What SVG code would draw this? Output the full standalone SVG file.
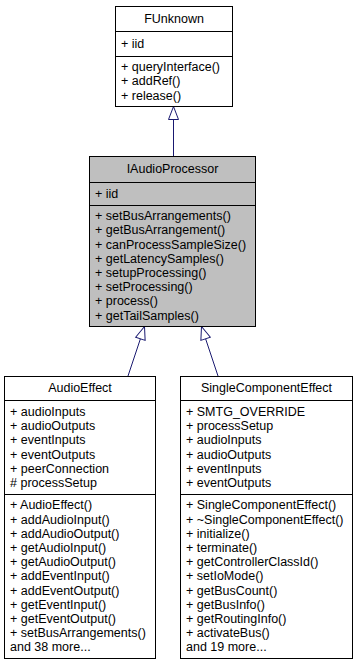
<svg xmlns="http://www.w3.org/2000/svg" width="357" height="664" viewBox="0 0 357 664">
  <style>
    .box { fill: #ffffff; stroke: #000000; stroke-width: 1; }
    .box.current { fill: #bfbfbf; }
    .sep { stroke: #000000; stroke-width: 1; }
    text { font-family: "Liberation Sans", Arial, Helvetica, sans-serif; font-size: 12.5px; fill: #000000; }
    .title { text-anchor: middle; }
    .edge { fill: none; stroke: #191970; stroke-width: 1; }
  </style>
  <defs>
    <marker id="inherit" markerUnits="userSpaceOnUse" markerWidth="15" markerHeight="12" refX="14" refY="6" orient="auto">
      <path d="M1,1 L14,6 L1,11 Z" fill="#ffffff" stroke="#191970" stroke-width="1"/>
    </marker>
  </defs>

  <!-- inheritance edges -->
  <g id="edges">
    <line class="edge" x1="173.5" y1="156" x2="173.5" y2="106.5" marker-end="url(#inherit)"/>
    <line class="edge" x1="128" y1="376" x2="144.5" y2="326.5" marker-end="url(#inherit)"/>
    <line class="edge" x1="218" y1="376" x2="201.5" y2="326.5" marker-end="url(#inherit)"/>
  </g>

  <g id="FUnknown">
    <rect class="box" x="115.5" y="6.5" width="117" height="100"/>
    <line class="sep" x1="115.5" y1="31.5" x2="232.5" y2="31.5"/>
    <line class="sep" x1="115.5" y1="56.5" x2="232.5" y2="56.5"/>
    <text class="title" x="174" y="23">FUnknown</text>
    <text x="121" y="48">+ iid</text>
    <text x="121" y="71.2">+ queryInterface()</text>
    <text x="121" y="85.4">+ addRef()</text>
    <text x="121" y="99.6">+ release()</text>
  </g>

  <g id="IAudioProcessor">
    <rect class="box current" x="89.5" y="156.5" width="166" height="170"/>
    <line class="sep" x1="89.5" y1="182.5" x2="255.5" y2="182.5"/>
    <line class="sep" x1="89.5" y1="205.5" x2="255.5" y2="205.5"/>
    <text class="title" x="172.5" y="173.4">IAudioProcessor</text>
    <text x="95" y="197.9">+ iid</text>
    <text x="95" y="220.2">+ setBusArrangements()</text>
    <text x="95" y="234.4">+ getBusArrangement()</text>
    <text x="95" y="248.6">+ canProcessSampleSize()</text>
    <text x="95" y="262.8">+ getLatencySamples()</text>
    <text x="95" y="277">+ setupProcessing()</text>
    <text x="95" y="291.2">+ setProcessing()</text>
    <text x="95" y="305.4">+ process()</text>
    <text x="95" y="319.6">+ getTailSamples()</text>
  </g>

  <g id="AudioEffect">
    <rect class="box" x="4.5" y="376.5" width="151" height="282"/>
    <line class="sep" x1="4.5" y1="400.5" x2="155.5" y2="400.5"/>
    <line class="sep" x1="4.5" y1="494.5" x2="155.5" y2="494.5"/>
    <text class="title" x="80" y="392.4">AudioEffect</text>
    <text x="10" y="415.9">+ audioInputs</text>
    <text x="10" y="430.1">+ audioOutputs</text>
    <text x="10" y="444.3">+ eventInputs</text>
    <text x="10" y="458.5">+ eventOutputs</text>
    <text x="10" y="472.7">+ peerConnection</text>
    <text x="10" y="486.9"># processSetup</text>
    <text x="10" y="509.4">+ AudioEffect()</text>
    <text x="10" y="523.6">+ addAudioInput()</text>
    <text x="10" y="537.8">+ addAudioOutput()</text>
    <text x="10" y="552">+ getAudioInput()</text>
    <text x="10" y="566.2">+ getAudioOutput()</text>
    <text x="10" y="580.4">+ addEventInput()</text>
    <text x="10" y="594.6">+ addEventOutput()</text>
    <text x="10" y="608.8">+ getEventInput()</text>
    <text x="10" y="623">+ getEventOutput()</text>
    <text x="10" y="637.2">+ setBusArrangements()</text>
    <text x="10" y="651.4">and 38 more...</text>
  </g>

  <g id="SingleComponentEffect">
    <rect class="box" x="180.5" y="376.5" width="172" height="282"/>
    <line class="sep" x1="180.5" y1="400.5" x2="352.5" y2="400.5"/>
    <line class="sep" x1="180.5" y1="494.5" x2="352.5" y2="494.5"/>
    <text class="title" x="266.5" y="392.4">SingleComponentEffect</text>
    <text x="186" y="415.9">+ SMTG_OVERRIDE</text>
    <text x="186" y="430.1">+ processSetup</text>
    <text x="186" y="444.3">+ audioInputs</text>
    <text x="186" y="458.5">+ audioOutputs</text>
    <text x="186" y="472.7">+ eventInputs</text>
    <text x="186" y="486.9">+ eventOutputs</text>
    <text x="186" y="509.4">+ SingleComponentEffect()</text>
    <text x="186" y="523.6">+ ~SingleComponentEffect()</text>
    <text x="186" y="537.8">+ initialize()</text>
    <text x="186" y="552">+ terminate()</text>
    <text x="186" y="566.2">+ getControllerClassId()</text>
    <text x="186" y="580.4">+ setIoMode()</text>
    <text x="186" y="594.6">+ getBusCount()</text>
    <text x="186" y="608.8">+ getBusInfo()</text>
    <text x="186" y="623">+ getRoutingInfo()</text>
    <text x="186" y="637.2">+ activateBus()</text>
    <text x="186" y="651.4">and 19 more...</text>
  </g>
</svg>
